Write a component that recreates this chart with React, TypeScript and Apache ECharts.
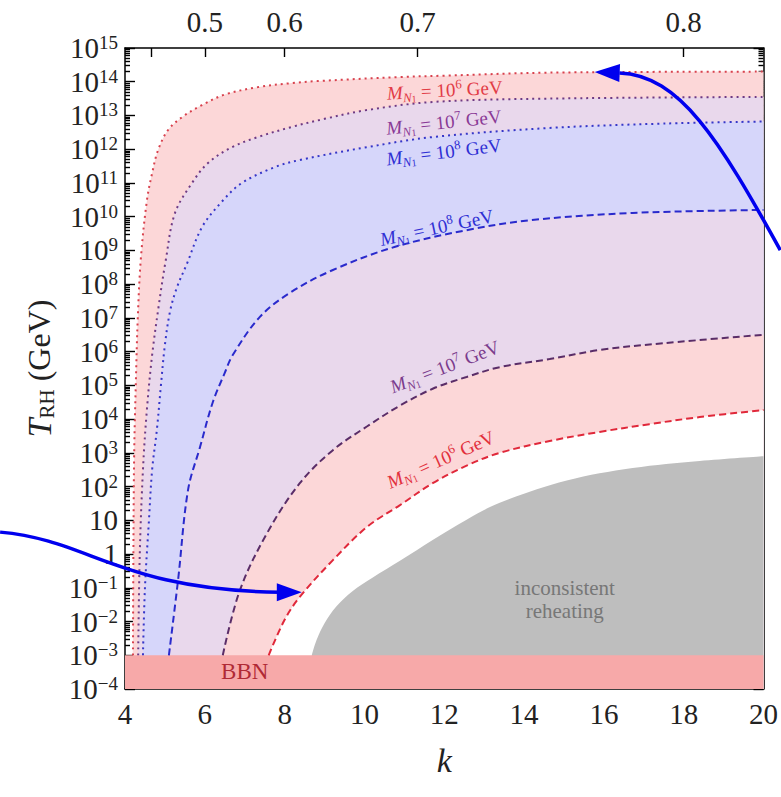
import React, { useEffect, useRef } from 'react';
import * as echarts from 'echarts';

// ---------- data (k, log10 T_RH / GeV) ----------
const redDotted: number[][] = [[4.2,-3],[4.21,0],[4.23,3],[4.27,5],[4.32,7],[4.4,8.8],[4.55,10.49],[4.68,11.29],[4.83,11.98],[5.08,12.57],[5.43,12.95],[5.93,13.31],[6.5,13.62],[7.33,13.84],[8.18,13.96],[8.83,14.02],[10.89,14.14],[12.0,14.18],[14.64,14.27],[20,14.3]];
const purpleDotted: number[][] = [[4.33,-3],[4.37,0],[4.45,2.5],[4.55,4.3],[4.68,5.9],[4.85,7.4],[5.02,8.7],[5.25,10.1],[5.68,11.0],[6.08,11.59],[6.68,12.06],[7.33,12.36],[8.18,12.66],[9.0,12.9],[10.06,13.16],[11.71,13.4],[14.64,13.5],[20,13.55]];
const blueDotted: number[][] = [[4.45,-3],[4.5,-1],[4.6,1],[4.68,2.5],[4.8,3.7],[4.9,5.0],[5.0,6.2],[5.13,7.2],[5.3,7.9],[5.55,8.6],[5.93,9.69],[6.43,10.45],[6.93,11.0],[7.76,11.47],[8.38,11.68],[10.06,12.06],[11.71,12.36],[14.64,12.63],[17.5,12.76],[20,12.82]];
const blueDashed: number[][] = [[5.1,-3],[5.33,-0.77],[5.58,1.9],[5.88,3.17],[6.2,4.5],[6.5,5.37],[6.7,5.9],[7.38,7.03],[8.13,7.74],[9.21,8.42],[10.75,9.1],[12.56,9.6],[14.2,9.9],[16.72,10.11],[20,10.2]];
const purpleDashed: number[][] = [[6.45,-3],[6.88,-1.07],[7.56,0.62],[8.38,2.1],[9.21,3.08],[10.06,3.78],[10.89,4.4],[11.71,4.9],[12.56,5.25],[13.39,5.54],[14.64,5.78],[15.9,6.05],[17.5,6.25],[20,6.5]];
const redDashed: number[][] = [[7.6,-3],[8.0,-1.95],[8.38,-1.27],[9.21,-0.18],[10.06,0.8],[10.89,1.45],[11.71,2.1],[12.56,2.62],[13.39,3.0],[14.64,3.35],[15.89,3.62],[17.14,3.85],[18.4,4.06],[20,4.27]];
const inconsistentEdge: number[][] = [[8.68,-3],[8.8,-2.55],[9.0,-2.05],[9.3,-1.55],[9.7,-1.1],[10.2,-0.7],[10.89,-0.2],[11.71,0.42],[12.56,1.02],[13.39,1.52],[15.07,2.18],[16.72,2.55],[18.4,2.76],[20,2.9]];
const bbnBand: number[][] = [[4,-3],[20,-3]];

// axis ranges / ticks
const kMin = 4, kMax = 20, kStep = 2;
const logTMin = -4, logTMax = 15;
const topTickW = [0.4, 0.5, 0.6, 0.7, 0.8];
const topLabelW = [0.5, 0.6, 0.7, 0.8];

// curve labels (anchor in data coords)
const curveLabels = [
  { k: 12.01, logT: 13.75, exp: '6', color: '#e23c46', angle: 3 },
  { k: 11.99, logT: 12.8, exp: '7', color: '#8a3a96', angle: 6 },
  { k: 11.99, logT: 11.92, exp: '8', color: '#2f2fd4', angle: 7 },
  { k: 11.81, logT: 9.68, exp: '8', color: '#2f2fd4', angle: 12 },
  { k: 12.01, logT: 5.55, exp: '7', color: '#7b3c8c', angle: 21 },
  { k: 11.91, logT: 2.8, exp: '6', color: '#e2303c', angle: 24 },
];
const regionLabels = [
  { k: 15.02, logT: -1.36, text: 'inconsistent\nreheating', color: '#777777', size: 21, lh: 23 },
  { k: 7.0, logT: -3.47, text: 'BBN', color: '#b02a35', size: 23, lh: 24 },
];
// annotation arrows (data coords: tail, control 1, control 2, end, tip)
const arrowLeft = [[0.87, 0.65], [3.12, 0.42], [3.87, -1.07], [7.88, -1.13], [8.43, -1.13]];
const arrowRight = [[20.42, 9.01], [18.9, 12.27], [17.9, 14.2], [16.39, 14.26], [15.77, 14.29]];

const FONT = "'Liberation Serif', 'DejaVu Serif', serif";
const PINK = '#fcd7d8';
const LAVENDER = '#e9d8ec';
const BLUE = '#d6d6fa';
const GRAY = '#bebebe';
const BBN = '#f7a9a9';

const kOfW = (w: number) => (2 * (1 + w)) / (1 - w);
const minorY: number[] = [];
for (let n = logTMin; n < logTMax; n++) for (let m = 2; m <= 9; m++) minorY.push(n + Math.log10(m));

const yLabel = (v: number) => {
  const n = Math.round(v);
  if (n === 0) return '{b|1}';
  if (n === 1) return '{b|10}';
  return `{b|10}{s|${n < 0 ? '\u2212' + -n : n}}`;
};

const axisLine = { show: true, onZero: false, lineStyle: { color: '#000', width: 1.5 } };
const tickStyle = { color: '#000', width: 1.4 };
const SMOOTH = 0.35;

const areaSeries = (data: number[][], color: string, z = 1) => ({
  type: 'line', data, symbol: 'none', showSymbol: false, silent: true,
  smooth: SMOOTH, z,
  lineStyle: { width: 0, opacity: 0 },
  areaStyle: { color, opacity: 1, origin: 'start' },
});
const lineSeries = (data: number[][], color: string, dash: number[]) => ({
  type: 'line', data, symbol: 'none', showSymbol: false, silent: true,
  smooth: SMOOTH, z: 5,
  lineStyle: { color, width: 2, type: dash },
});

const DOT = [2, 4];
const DASH = [7, 4];

const option: any = {
  animation: false,
  backgroundColor: '#fff',
  grid: { left: 125, right: 17, top: 48, bottom: 108 },
  xAxis: [
    {
      type: 'value', min: kMin, max: kMax, interval: kStep, position: 'bottom',
      axisLine, splitLine: { show: false },
      axisTick: { inside: true, length: 9, lineStyle: tickStyle },
      minorTick: { show: true, splitNumber: 2, length: 5, lineStyle: tickStyle },
      axisLabel: { fontFamily: FONT, fontSize: 29, color: '#222', margin: 10 },
      name: 'k', nameLocation: 'middle', nameGap: 54,
      nameTextStyle: { fontFamily: FONT, fontStyle: 'italic', fontSize: 34, color: '#222' },
    },
    {
      type: 'value', min: kMin, max: kMax, position: 'top',
      axisLine, splitLine: { show: false },
      axisTick: { inside: true, length: 9, lineStyle: tickStyle, customValues: topTickW.map(kOfW) },
      axisLabel: {
        customValues: topLabelW.map(kOfW), fontFamily: FONT, fontSize: 29, color: '#222', margin: 12,
        formatter: (v: number) => ((v - 2) / (v + 2)).toFixed(1),
      },
    },
  ],
  yAxis: [
    {
      type: 'value', min: logTMin, max: logTMax, interval: 1, position: 'left',
      axisLine, splitLine: { show: false },
      axisTick: { inside: true, length: 10, lineStyle: tickStyle },
      axisLabel: {
        margin: 7, formatter: yLabel,
        rich: {
          b: { fontFamily: FONT, fontSize: 29, color: '#222', lineHeight: 30 },
          s: { fontFamily: FONT, fontSize: 19, color: '#222', verticalAlign: 'top', lineHeight: 16 },
        },
      },
      name: '{i|T}{s|RH}{r| (GeV)}', nameLocation: 'middle', nameGap: 68, nameRotate: 90,
      nameTextStyle: {
        color: '#222',
        rich: {
          i: { fontFamily: FONT, fontStyle: 'italic', fontSize: 34, color: '#222', lineHeight: 36 },
          s: { fontFamily: FONT, fontSize: 21, color: '#222', verticalAlign: 'bottom', lineHeight: 24 },
          r: { fontFamily: FONT, fontSize: 32, color: '#222', lineHeight: 36 },
        },
      },
    },
    {
      type: 'value', min: logTMin, max: logTMax, position: 'left',
      axisLine: { show: false, onZero: false }, splitLine: { show: false }, axisLabel: { show: false },
      axisTick: { inside: true, length: 5, lineStyle: tickStyle, customValues: minorY },
    },
    {
      type: 'value', min: logTMin, max: logTMax, interval: 1, position: 'right',
      axisLine, splitLine: { show: false }, axisLabel: { show: false },
      axisTick: { inside: true, length: 10, lineStyle: tickStyle },
    },
    {
      type: 'value', min: logTMin, max: logTMax, position: 'right',
      axisLine: { show: false, onZero: false }, splitLine: { show: false }, axisLabel: { show: false },
      axisTick: { inside: true, length: 5, lineStyle: tickStyle, customValues: minorY },
    },
  ],
  series: [
    areaSeries(redDotted, PINK),
    areaSeries(purpleDotted, LAVENDER),
    areaSeries(blueDotted, BLUE),
    areaSeries(blueDashed, LAVENDER),
    areaSeries(purpleDashed, PINK),
    areaSeries(redDashed, '#ffffff'),
    areaSeries(inconsistentEdge, GRAY),
    { ...areaSeries(bbnBand, BBN), smooth: false },
    lineSeries(redDotted, '#d8414d', DOT),
    lineSeries(purpleDotted, '#6e3a84', DOT),
    lineSeries(blueDotted, '#3636c8', DOT),
    lineSeries(blueDashed, '#2a2acc', DASH),
    lineSeries(purpleDashed, '#5a2d68', DASH),
    lineSeries(redDashed, '#e0283a', DASH),
  ],
};

export default function App() {
  const ref = useRef<HTMLDivElement>(null);
  useEffect(() => {
    const chart = echarts.init(ref.current!, null, { renderer: 'svg' });
    chart.setOption(option);
    const px = (p: number[]) => chart.convertToPixel({ xAxisIndex: 0, yAxisIndex: 0 }, p) as number[];
    const graphics: any[] = [];
    curveLabels.forEach((l) => {
      const [x, y] = px([l.k, l.logT]);
      graphics.push({
        type: 'text', x, y, rotation: (l.angle * Math.PI) / 180, z: 20, silent: true,
        style: {
          text: `{m|M}{n|N}{o|1}{t| = 10}{p|${l.exp}}{t| GeV}`,
          align: 'center', verticalAlign: 'middle', fill: l.color,
          rich: {
            m: { fontFamily: FONT, fontStyle: 'italic', fontSize: 19, lineHeight: 24, fill: l.color },
            n: { fontFamily: FONT, fontStyle: 'italic', fontSize: 13, lineHeight: 16, verticalAlign: 'bottom', fill: l.color },
            o: { fontFamily: FONT, fontSize: 10, lineHeight: 12, verticalAlign: 'bottom', fill: l.color },
            t: { fontFamily: FONT, fontSize: 19, lineHeight: 24, fill: l.color },
            p: { fontFamily: FONT, fontSize: 13, lineHeight: 14, verticalAlign: 'top', fill: l.color },
          },
        },
      });
    });
    regionLabels.forEach((l) => {
      const [x, y] = px([l.k, l.logT]);
      graphics.push({
        type: 'text', x, y, z: 20, silent: true,
        style: {
          text: l.text, fill: l.color, fontFamily: FONT, fontSize: l.size, lineHeight: l.lh,
          align: 'center', verticalAlign: 'middle',
        },
      });
    });
    [arrowLeft, arrowRight].forEach((a) => {
      const [p0, c1, c2, p3, tip] = a.map(px);
      graphics.push({
        type: 'bezierCurve', z: 30, silent: true,
        shape: { x1: p0[0], y1: p0[1], cpx1: c1[0], cpy1: c1[1], cpx2: c2[0], cpy2: c2[1], x2: p3[0], y2: p3[1] },
        style: { stroke: '#0000ee', lineWidth: 3.5, fill: 'none' },
      });
      const dx = tip[0] - p3[0], dy = tip[1] - p3[1];
      const len = Math.hypot(dx, dy) || 1;
      const nx = -dy / len, ny = dx / len, hw = 9;
      const bx = tip[0] - (dx / len) * 25, by = tip[1] - (dy / len) * 25;
      graphics.push({
        type: 'polygon', z: 31, silent: true,
        shape: { points: [[tip[0], tip[1]], [bx + nx * hw, by + ny * hw], [bx - nx * hw, by - ny * hw]] },
        style: { fill: '#0000ee' },
      });
    });
    chart.setOption({ graphic: graphics });
    return () => chart.dispose();
  }, []);
  return (
    <div
      ref={ref}
      style={{ position: 'fixed', left: 0, top: 0, width: 781, height: 797, background: '#fff' }}
    />
  );
}
